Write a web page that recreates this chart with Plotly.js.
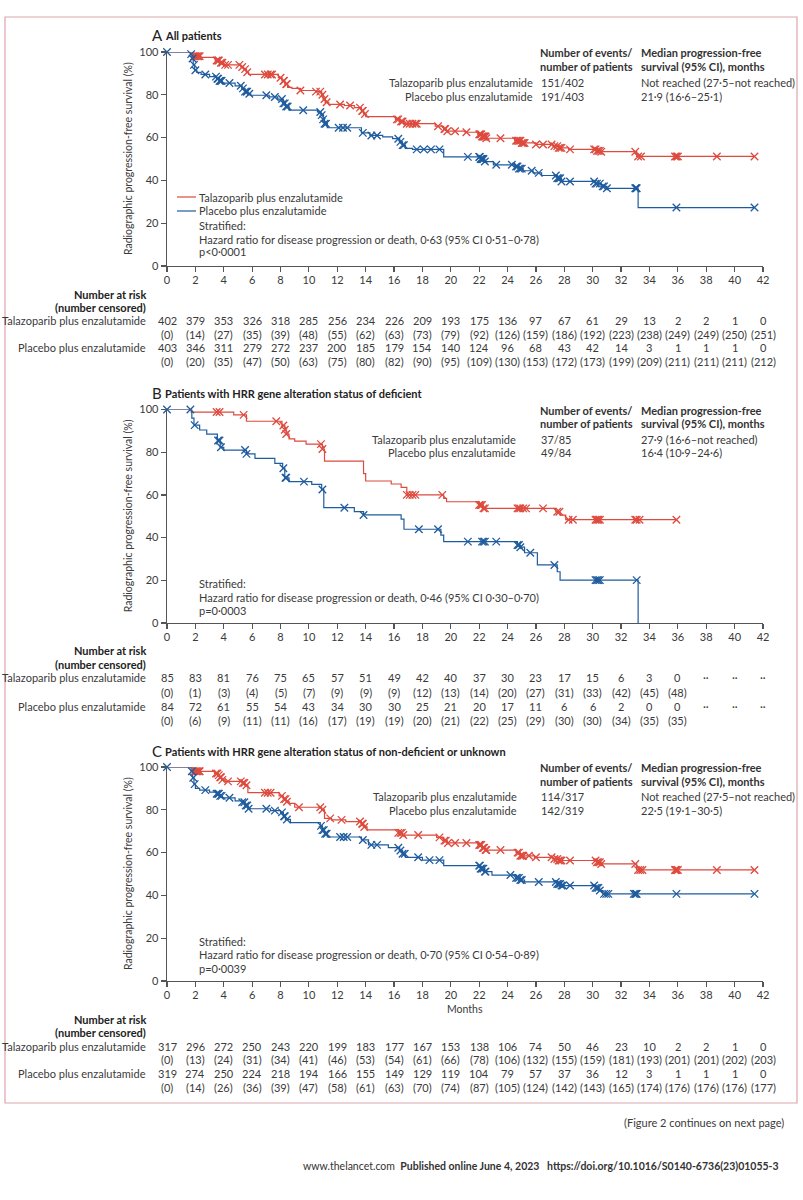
<!DOCTYPE html>
<html><head><meta charset="utf-8">
<script src="https://cdn.plot.ly/plotly-3.0.1.min.js"></script>
<style>html,body{margin:0;padding:0;background:#fff}#chart{width:803px;height:1200px}</style>
</head><body><div id="chart"></div>
<script>
// ---------------- DATA ----------------
const monthTicks = [0,2,4,6,8,10,12,14,16,18,20,22,24,26,28,30,32,34,36,38,40,42];
const yTicks = [0,20,40,60,80,100];
const armNames = ["Talazoparib plus enzalutamide", "Placebo plus enzalutamide"];

// Panel A – all patients
const A_tal_times = [1.8,2.4,3.4,3.7,4.0,5.2,5.4,5.6,5.75,7.85,8.1,8.3,8.5,8.8,9.4,10.5,10.9,11.0,11.15,11.4,12.5,13.2,13.7,13.85,14.0,16.1,16.4,16.7,18.9,19.5,19.7,21.0,21.9,22.2,22.5,24.5,25.0,26.0,27.2,27.6,28.3,30.3,30.6,33.1];
const A_tal_surv  = [98,97.5,96,95,94,93,92,90.5,89.5,88,86.5,85,83.5,83,82,81.5,80,78,76.5,75.5,75,74,72.5,71,69.8,68.5,67.5,66.5,65.3,64,63,62.5,61.5,60.5,59.7,58.5,57.5,56.8,56,55.2,54.5,53.8,53.4,51.2];
const A_tal_end = 41.4;
const A_tal_cens = [1.9,2.0,2.1,2.2,2.3,3.5,3.6,3.65,3.8,3.9,4.1,4.3,5.1,5.3,5.5,5.65,6.9,7.1,7.3,7.4,8.0,8.2,8.25,8.4,8.45,9.4,10.5,10.8,10.95,11.1,11.25,12.2,12.9,13.6,13.75,13.8,13.95,16.2,16.3,16.5,16.6,16.9,17.1,17.3,17.5,17.6,19.1,19.55,19.6,19.75,20.3,21.1,22.0,22.05,22.1,22.15,22.2,22.25,22.3,22.35,22.4,22.45,22.5,23.5,24.6,24.7,24.8,24.9,25.0,25.1,25.2,26.0,26.5,27.1,27.3,27.5,27.6,27.7,27.8,28.4,30.1,30.2,30.3,30.4,30.5,30.6,33.0,33.2,33.4,35.8,35.9,36.0,38.75,41.4];
const A_pla_times = [1.65,1.75,1.85,1.95,2.1,2.4,3.0,3.5,3.7,3.9,4.8,5.3,5.5,5.7,5.9,7.2,7.8,8.2,8.35,8.6,10.6,10.85,11.0,11.1,11.3,13.7,14.3,15.2,15.9,16.4,16.6,16.8,17.3,19.5,22.1,22.4,23.0,24.5,24.8,25.1,25.8,26.4,27.5,27.8,30.2,30.6,31.0,33.2];
const A_pla_surv  = [99,97,94,91.5,90.5,89.5,88.5,87.5,86.5,85.5,84.2,83,81.5,80.5,79.8,79,78,76,74.5,72.8,72,70.5,68.5,66.5,64.6,62.2,61,60.3,59.5,58,56.5,55,54.5,51,50,48.8,47.3,46.5,45.5,44.5,43.5,42.3,41,39.5,38.5,37.2,36.3,27.3];
const A_pla_end = 41.4;
const A_pla_cens = [0,1.7,1.8,1.9,2.0,2.7,3.45,3.55,3.6,3.7,3.75,3.8,3.85,4.4,5.2,5.35,5.5,5.6,5.65,5.8,7.0,7.6,8.1,8.2,8.3,8.4,8.5,9.6,10.8,10.9,11.0,11.1,11.2,12.1,12.4,12.7,13.8,14.4,14.8,16.3,16.45,16.6,16.7,17.6,18.1,18.6,19.2,21.2,22.0,22.05,22.1,22.15,22.2,22.25,22.3,22.4,23.2,24.3,24.6,24.7,24.8,24.9,25.0,25.7,26.2,27.4,27.5,27.6,27.7,27.8,28.4,30.1,30.2,30.3,30.5,30.7,30.8,31.0,33.0,33.05,33.1,35.9,41.4];

// Panel B – HRR deficient
const B_tal_times = [1.7,4.7,5.6,8.1,8.3,8.4,8.6,9.0,9.8,10.95,11.1,13.85,14.0,15.8,16.5,16.9,19.5,19.7,22.0,22.3,27.4,27.7,28.1];
const B_tal_surv  = [98.8,97.5,94.5,92.5,90.5,88.5,86.2,85.2,83.8,81.5,75.8,70,66.5,65.1,63.5,60,58.4,56.8,55.3,53.7,52.1,50.5,48.4];
const B_tal_end = 35.9;
const B_tal_cens = [3.5,3.7,5.4,7.7,8.2,8.3,8.4,10.85,10.95,16.9,17.1,17.3,17.5,19.4,22.0,22.1,22.2,22.3,22.4,24.7,24.8,24.9,25.1,25.3,26.5,27.5,27.65,28.3,28.6,30.2,30.3,30.4,30.5,33.0,33.1,33.3,35.9];
const B_pla_times = [1.75,1.9,2.3,2.8,3.55,3.75,4.0,5.6,6.2,7.6,8.15,8.3,8.6,10.2,10.9,11.05,13.2,13.85,16.5,16.7,19.3,19.5,24.7,24.9,25.2,26.1,27.5,27.7,33.2];
const B_pla_surv  = [96,92.7,90.4,88.5,85.5,82.3,81,79.2,77.1,74.8,72.5,68,66.2,64.9,62.5,54,52.2,50.6,48.7,43.9,41.2,38.1,36.5,35.5,32.9,27.2,24,20.1,0];
const B_pla_end = 33.2;
const B_pla_cens = [0,1.65,1.95,3.6,3.7,3.8,5.5,5.6,8.2,8.35,8.4,9.65,10.95,12.5,13.85,17.75,19.1,21.2,22.2,22.3,22.4,23.2,24.7,24.8,24.9,25.6,27.3,30.2,30.3,30.4,30.5,33.1];

// Panel C – HRR non-deficient or unknown
const C_tal_times = [1.85,3.35,3.6,3.7,3.85,4.1,5.3,5.5,5.7,7.9,8.2,8.4,8.6,9.0,10.9,11.1,11.6,12.6,13.7,13.85,14.1,16.3,16.6,19.0,19.5,19.75,21.9,22.2,22.45,24.6,24.9,25.9,27.2,27.6,30.3,30.6,33.1];
const C_tal_surv  = [98,97,96.2,95.2,94,93.3,92.5,91.5,88,86.5,85,83.8,83,81.2,80,76,75.3,74.5,73.5,72,70.6,69.2,68.2,67.1,65.6,64.5,63.6,62.2,61.2,60,58.5,57.8,57,56.3,55.5,54.7,51.9];
const C_tal_end = 41.4;
const C_tal_cens = [1.95,2.05,2.15,2.25,2.3,3.45,3.55,3.65,3.75,3.8,3.9,4.3,5.2,5.35,5.45,5.6,6.9,7.1,7.3,8.1,8.25,8.35,8.45,9.3,10.8,10.95,11.5,12.3,13.6,13.75,13.8,13.9,16.3,16.45,16.55,16.65,17.7,19.2,19.55,19.65,19.8,20.3,21.1,22.0,22.05,22.1,22.15,22.25,22.3,22.35,22.45,22.5,23.5,24.7,24.8,24.9,25.0,25.1,25.5,26.0,27.1,27.3,27.5,27.6,27.7,27.8,28.4,30.2,30.3,30.4,30.5,30.6,33.0,33.2,33.35,33.5,35.8,35.85,35.9,36.0,38.75,41.4];
const C_pla_times = [1.7,1.8,1.9,2.0,2.3,3.0,3.5,3.7,3.9,4.8,5.3,5.5,5.7,7.3,8.0,8.2,8.35,8.7,10.8,10.95,11.1,11.3,13.7,14.2,15.6,16.4,16.6,16.8,18.0,19.5,22.1,22.4,22.9,24.6,24.9,25.2,27.5,27.8,30.2,30.5,30.7];
const C_pla_surv  = [98,95,92,90,89.2,88.3,87.5,86.5,85.6,84.2,83.5,82,80.5,79.6,78.8,77,75.5,74,72.5,70.5,68.8,67.3,65.9,63.6,62.3,61,59.5,57.8,56.5,53.9,52.5,51.1,49.5,48.2,47.2,46.3,45.3,44.6,43.5,42.3,40.7];
const C_pla_end = 41.4;
const C_pla_cens = [0,1.75,1.85,1.95,2.7,3.5,3.6,3.65,3.75,3.85,4.4,5.3,5.45,5.55,5.65,5.75,7.0,7.6,8.1,8.25,8.3,8.45,10.85,10.95,11.05,11.15,11.25,12.2,12.45,12.7,13.8,14.4,14.8,16.3,16.45,16.6,16.75,17.7,18.5,19.2,22.0,22.05,22.1,22.15,22.2,22.3,22.4,22.45,24.2,24.6,24.7,24.8,24.9,25.0,26.2,27.4,27.5,27.6,27.7,27.8,27.9,28.4,30.1,30.2,30.3,30.4,30.5,30.8,30.95,31.1,32.9,33.0,33.05,33.1,35.9,41.4];

// Numbers at risk (number censored)
const A_tal_risk = [402,379,353,326,318,285,256,234,226,209,193,175,136,97,67,61,29,13,2,2,1,0];
const A_tal_cen  = [0,14,27,35,39,48,55,62,63,73,79,92,126,159,186,192,223,238,249,249,250,251];
const A_pla_risk = [403,346,311,279,272,237,200,185,179,154,140,124,96,68,43,42,14,3,1,1,1,0];
const A_pla_cen  = [0,20,35,47,50,63,75,80,82,90,95,109,130,153,172,173,199,209,211,211,211,212];
const B_tal_risk = [85,83,81,76,75,65,57,51,49,42,40,37,30,23,17,15,6,3,0,"··","··","··"];
const B_tal_cen  = [0,1,3,4,5,7,9,9,9,12,13,14,20,27,31,33,42,45,48];
const B_pla_risk = [84,72,61,55,54,43,34,30,30,25,21,20,17,11,6,6,2,0,0,"··","··","··"];
const B_pla_cen  = [0,6,9,11,11,16,17,19,19,20,21,22,25,29,30,30,34,35,35];
const C_tal_risk = [317,296,272,250,243,220,199,183,177,167,153,138,106,74,50,46,23,10,2,2,1,0];
const C_tal_cen  = [0,13,24,31,34,41,46,53,54,61,66,78,106,132,155,159,181,193,201,201,202,203];
const C_pla_risk = [319,274,250,224,218,194,166,155,149,129,119,104,79,57,37,36,12,3,1,1,1,0];
const C_pla_cen  = [0,14,26,36,39,47,58,61,63,70,74,87,105,124,142,143,165,174,176,176,176,177];

// Text
const panelLetters = ["A","B","C"];
const panelTitles = ["All patients","Patients with HRR gene alteration status of deficient","Patients with HRR gene alteration status of non-deficient or unknown"];
const eventsTal = ["151/402","37/85","114/317"];
const eventsPla = ["191/403","49/84","142/319"];
const medianTal = ["Not reached (27·5–not reached)","27·9 (16·6–not reached)","Not reached (27·5–not reached)"];
const medianPla = ["21·9 (16·6–25·1)","16·4 (10·9–24·6)","22·5 (19·1–30·5)"];
const hrText = ["Hazard ratio for disease progression or death, 0·63 (95% CI 0·51–0·78)","Hazard ratio for disease progression or death, 0·46 (95% CI 0·30–0·70)","Hazard ratio for disease progression or death, 0·70 (95% CI 0·54–0·89)"];
const pText = ["p&lt;0·0001","p=0·0003","p=0·0039"];

// ---------------- STYLE / LAYOUT ----------------
const W = 803, H = 1200;
const FONT = "Lato, 'Open Sans', sans-serif";
const RED = "#de4a3e", BLUE = "#1f5c9e", TXT = "#3a3a3a", AX = "#555";
const px = v => v / W, py = v => 1 - v / H;
const X0 = 167, X1 = 763;
const P = [
  {top:52, bot:266, head:35, stats:[52,66,82,97], legend:[197,211], strat:[225,239,252], table:[294,307.5,320.5,334.5,347.5,361.5], labR:535},
  {top:409.5, bot:623, head:393, stats:[410,424,439,453], legend:null, strat:[583,597,610], table:[650.5,664.5,678,692.5,706,720.5], labR:518},
  {top:767, bot:981, head:751, stats:[767,781,796,810], legend:null, strat:[941,954.5,968], table:[1019,1032.5,1046,1059.5,1073.5,1087.5], labR:519}
];
const curves = [
  [[A_tal_times,A_tal_surv,A_tal_end,A_tal_cens],[A_pla_times,A_pla_surv,A_pla_end,A_pla_cens]],
  [[B_tal_times,B_tal_surv,B_tal_end,B_tal_cens],[B_pla_times,B_pla_surv,B_pla_end,B_pla_cens]],
  [[C_tal_times,C_tal_surv,C_tal_end,C_tal_cens],[C_pla_times,C_pla_surv,C_pla_end,C_pla_cens]]
];
const risks = [
  [A_tal_risk,A_tal_cen,A_pla_risk,A_pla_cen],
  [B_tal_risk,B_tal_cen,B_pla_risk,B_pla_cen],
  [C_tal_risk,C_tal_cen,C_pla_risk,C_pla_cen]
];

function stepXY(times, surv, end){
  const x=[0], y=[100];
  for(let i=0;i<times.length;i++){ x.push(times[i]); y.push(surv[i]); }
  if(end > times[times.length-1]){ x.push(end); y.push(surv[surv.length-1]); }
  return {x,y};
}
function survAt(t, times, surv){
  let v=100;
  for(let i=0;i<times.length;i++){ if(times[i] <= t) v = surv[i]; }
  return v;
}

const data = [];
const annotations = [];
const shapes = [];
const layout = {
  width:W, height:H, margin:{l:0,r:0,t:0,b:0},
  paper_bgcolor:"#fff", plot_bgcolor:"rgba(0,0,0,0)",
  showlegend:false, font:{family:FONT, color:TXT, size:11}
};
function ann(o){ annotations.push(Object.assign({showarrow:false, font:{family:FONT,size:11,color:TXT}}, o)); }

P.forEach((p, k) => {
  const xs = k===0 ? "" : String(k+1);
  const xid = "x"+xs, yid = "y"+xs;
  layout["xaxis"+xs] = {
    domain:[px(X0), px(X1)], range:[0,42], anchor:yid, fixedrange:true,
    tickvals:monthTicks, ticks:"outside", ticklen:5, tickwidth:1.2, tickcolor:AX,
    ticklabelstandoff:-2,
    showline:true, linecolor:AX, linewidth:1.4, showgrid:false, zeroline:false,
    tickfont:{family:FONT, size:11, color:TXT}
  };
  layout["yaxis"+xs] = {
    domain:[py(p.bot), py(p.top)], range:[0,100], anchor:xid, fixedrange:true,
    tickvals:yTicks, ticks:"outside", ticklen:5, tickwidth:1.2, tickcolor:AX,
    showline:true, linecolor:AX, linewidth:1.4, showgrid:false, zeroline:false,
    tickfont:{family:FONT, size:11, color:TXT}
  };
  // curves
  curves[k].forEach((c, j) => {
    const col = j===0 ? RED : BLUE;
    const s = stepXY(c[0], c[1], c[2]);
    data.push({type:"scatter", mode:"lines", x:s.x, y:s.y, xaxis:xid, yaxis:yid,
      line:{shape:"hv", color:col, width:1.2}, cliponaxis:false, hoverinfo:"skip"});
  });
  curves[k].forEach((c, j) => {
    const col = j===0 ? RED : BLUE;
    data.push({type:"scatter", mode:"markers", x:c[3], y:c[3].map(t=>survAt(t,c[0],c[1])),
      xaxis:xid, yaxis:yid, cliponaxis:false, hoverinfo:"skip",
      marker:{symbol:"x-thin", size:7.5, line:{color:col, width:1.3}, color:col}});
  });
  // header
  ann({xref:"paper", yref:"paper", x:px(150), y:py(p.head), xanchor:"left", yanchor:"middle",
       text:panelLetters[k], font:{family:FONT, size:15, color:"#222"}});
  ann({xref:"paper", yref:"paper", x:px(163), y:py(p.head), xanchor:"left", yanchor:"middle",
       text:"<b>"+panelTitles[k]+"</b>", font:{family:FONT, size:11, color:"#222"}});
  // y title
  ann({xref:"paper", yref:"paper", x:px(128), y:py((p.top+p.bot)/2), xanchor:"center", yanchor:"middle",
       textangle:-90, text:"Radiographic progression-free survival (%)", font:{family:FONT, size:10.5, color:TXT}});
  // stats block
  const bf = {family:FONT,size:11,color:"#333"};
  ann({xref:"paper", yref:"paper", x:px(538), y:py(p.stats[0]), xanchor:"left", yanchor:"middle", text:"<b>Number of events/</b>", font:bf});
  ann({xref:"paper", yref:"paper", x:px(538), y:py(p.stats[1]), xanchor:"left", yanchor:"middle", text:"<b>number of patients</b>", font:bf});
  ann({xref:"paper", yref:"paper", x:px(639), y:py(p.stats[0]), xanchor:"left", yanchor:"middle", text:"<b>Median progression-free</b>", font:bf});
  ann({xref:"paper", yref:"paper", x:px(639), y:py(p.stats[1]), xanchor:"left", yanchor:"middle", text:"<b>survival (95% CI), months</b>", font:bf});
  [[armNames[0],eventsTal[k],medianTal[k]],[armNames[1],eventsPla[k],medianPla[k]]].forEach((r,j)=>{
    const yy = py(p.stats[2+j]);
    ann({xref:"paper", yref:"paper", x:px(p.labR), y:yy, xanchor:"right", yanchor:"middle", text:r[0]});
    ann({xref:"paper", yref:"paper", x:px(539), y:yy, xanchor:"left", yanchor:"middle", text:r[1]});
    ann({xref:"paper", yref:"paper", x:px(639), y:yy, xanchor:"left", yanchor:"middle", text:r[2]});
  });
  // legend (panel A only)
  if(p.legend){
    [RED, BLUE].forEach((col,j)=>{
      shapes.push({type:"line", xref:"paper", yref:"paper", x0:px(177), x1:px(196), y0:py(p.legend[j]), y1:py(p.legend[j]), line:{color:col, width:1.2}});
      ann({xref:"paper", yref:"paper", x:px(197), y:py(p.legend[j]), xanchor:"left", yanchor:"middle", text:armNames[j]});
    });
  }
  ann({xref:"paper", yref:"paper", x:px(197), y:py(p.strat[0]), xanchor:"left", yanchor:"middle", text:"Stratified:"});
  ann({xref:"paper", yref:"paper", x:px(197), y:py(p.strat[1]), xanchor:"left", yanchor:"middle", text:hrText[k]});
  ann({xref:"paper", yref:"paper", x:px(197), y:py(p.strat[2]), xanchor:"left", yanchor:"middle", text:pText[k]});
  // risk table
  const t = p.table;
  ann({xref:"paper", yref:"paper", x:px(148), y:py(t[0]), xanchor:"right", yanchor:"middle", text:"<b>Number at risk</b>", font:{family:FONT,size:11,color:"#222"}});
  ann({xref:"paper", yref:"paper", x:px(148), y:py(t[1]), xanchor:"right", yanchor:"middle", text:"<b>(number censored)</b>", font:{family:FONT,size:11,color:"#222"}});
  ann({xref:"paper", yref:"paper", x:px(148), y:py(t[2]), xanchor:"right", yanchor:"middle", text:armNames[0], font:{family:FONT,size:11,color:TXT}});
  ann({xref:"paper", yref:"paper", x:px(148), y:py(t[4]), xanchor:"right", yanchor:"middle", text:armNames[1], font:{family:FONT,size:11,color:TXT}});
  const R = risks[k];
  [[R[0],t[2],false],[R[1],t[3],true],[R[2],t[4],false],[R[3],t[5],true]].forEach(row=>{
    row[0].forEach((v,i)=>{
      ann({xref:xid, yref:"paper", x:monthTicks[i], y:py(row[1]), xanchor:"center", yanchor:"middle",
           text: row[2] ? "("+v+")" : String(v), font:{family:FONT,size:11,color:TXT}});
    });
  });
});
// Months label
ann({xref:"x3", yref:"paper", x:21, y:py(1009), xanchor:"center", yanchor:"middle", text:"Months", font:{family:FONT,size:10.5,color:TXT}});
// continuation note & footer
ann({xref:"paper", yref:"paper", x:px(786), y:py(1122), xanchor:"right", yanchor:"middle", text:"(Figure 2 continues on next page)", font:{family:FONT,size:11,color:TXT}});
ann({xref:"paper", yref:"paper", x:px(781), y:py(1166), xanchor:"right", yanchor:"middle",
     text:"www.thelancet.com  <b>Published online June 4, 2023   https://doi.org/10.1016/S0140-6736(23)01055-3</b>", font:{family:FONT,size:10.5,color:"#333"}});
// outer frame
shapes.push({type:"rect", xref:"paper", yref:"paper", x0:px(5), x1:px(797), y0:py(1103), y1:py(17), line:{color:"#dba6ae", width:1.2}, fillcolor:"rgba(0,0,0,0)"});

layout.annotations = annotations;
layout.shapes = shapes;
Plotly.newPlot("chart", data, layout, {staticPlot:true, displayModeBar:false});
</script></body></html>
